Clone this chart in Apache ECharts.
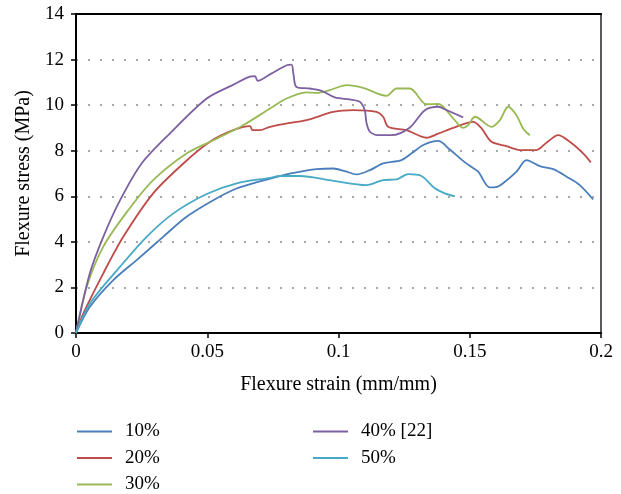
<!DOCTYPE html>
<html>
<head>
<meta charset="utf-8">
<script src="https://cdn.jsdelivr.net/npm/echarts@6/dist/echarts.min.js"></script>
<style>
html,body{margin:0;padding:0;background:#fff;}
#chart{width:621px;height:494px;}
</style>
</head>
<body>
<div id="chart"></div>
<script>
var seriesNames = ['10%', '20%', '30%', '40% [22]', '50%'];
var xTicks = [0, 0.05, 0.1, 0.15, 0.2];
var yTicks = [0, 2, 4, 6, 8, 10, 12, 14];

var s10 = [[0,0],[0.0053,1.15],[0.0142,2.32],[0.0231,3.2],[0.0332,4.22],[0.0421,5.1],[0.0523,5.83],[0.0612,6.34],[0.0700,6.65],[0.079,6.93],[0.0855,7.08],[0.0917,7.19],[0.098,7.22],[0.1025,7.1],[0.1069,6.96],[0.112,7.15],[0.117,7.44],[0.124,7.59],[0.128,7.9],[0.1323,8.25],[0.138,8.43],[0.1424,8.05],[0.147,7.6],[0.15,7.34],[0.1532,7.08],[0.1576,6.39],[0.16,6.4],[0.1627,6.57],[0.1678,7.08],[0.1716,7.59],[0.1767,7.32],[0.1818,7.19],[0.1869,6.86],[0.1919,6.49],[0.197,5.86]];
var s20 = [[0,0],[0.0028,0.86],[0.0104,2.62],[0.018,4.22],[0.0294,6.13],[0.0409,7.44],[0.051,8.39],[0.0599,8.9],[0.0663,9.08],[0.0672,8.9],[0.07,8.9],[0.0739,9.05],[0.079,9.17],[0.0878,9.34],[0.098,9.7],[0.1057,9.78],[0.1145,9.7],[0.117,9.49],[0.1189,9.05],[0.1259,8.9],[0.1335,8.57],[0.138,8.75],[0.1437,9.0],[0.1513,9.27],[0.1545,8.98],[0.1583,8.39],[0.164,8.2],[0.1691,8.03],[0.1754,8.03],[0.1792,8.35],[0.1837,8.68],[0.1881,8.39],[0.1932,7.88],[0.1961,7.49]];
var s30 = [[0,0],[0.0041,2.03],[0.0104,3.79],[0.0199,5.39],[0.0294,6.71],[0.0421,7.88],[0.0523,8.46],[0.0637,9.12],[0.0739,9.85],[0.0802,10.29],[0.0878,10.56],[0.0917,10.54],[0.0967,10.66],[0.1031,10.88],[0.1094,10.76],[0.1183,10.41],[0.1221,10.73],[0.1272,10.73],[0.1335,10.04],[0.138,10.05],[0.1437,9.42],[0.1475,9.0],[0.1494,9.12],[0.152,9.49],[0.1583,9.05],[0.1615,9.34],[0.1646,9.93],[0.1678,9.56],[0.1703,8.98],[0.1729,8.68]];
var s40 = [[0,0],[0.0053,2.63],[0.0104,4.22],[0.0168,5.83],[0.025,7.44],[0.0358,8.76],[0.0498,10.29],[0.06,10.9],[0.0663,11.25],[0.0682,11.27],[0.0692,11.07],[0.0739,11.35],[0.0802,11.75],[0.0821,11.78],[0.0828,11.39],[0.084,10.8],[0.0891,10.73],[0.0936,10.63],[0.0986,10.34],[0.1043,10.25],[0.1081,10.15],[0.11,9.78],[0.1107,9.2],[0.112,8.83],[0.1158,8.68],[0.1202,8.68],[0.1272,9.02],[0.1329,9.78],[0.138,9.93],[0.1412,9.78],[0.1475,9.46]];
var s50 = [[0,0],[0.0053,1.3],[0.0168,2.91],[0.0269,4.22],[0.0371,5.25],[0.0498,6.1],[0.0612,6.57],[0.0739,6.81],[0.0777,6.89],[0.0853,6.89],[0.098,6.68],[0.1107,6.49],[0.117,6.71],[0.1221,6.74],[0.1265,6.97],[0.1316,6.89],[0.1367,6.35],[0.1405,6.13],[0.1443,6.0]];

var colors = ['#4a7ebb', '#be4b48', '#98b954', '#7d60a0', '#46aac5'];
var allData = [s10, s20, s30, s40, s50];
var FONT = '"Liberation Serif", "Times New Roman", serif';

var chart = echarts.init(document.getElementById('chart'), null, {renderer: 'canvas'});

var series = allData.map(function (d, i) {
  return {
    name: seriesNames[i],
    type: 'line',
    data: d,
    showSymbol: false,
    symbol: 'none',
    smooth: 0.3,
    lineStyle: {color: colors[i], width: 1.8},
    itemStyle: {color: colors[i]},
    animation: false
  };
});

var legendCommon = {
  orient: 'vertical',
  icon: 'rect',
  itemWidth: 35,
  itemHeight: 2,
  itemGap: 7.5,
  height: 80,
  padding: 0,
  textStyle: {fontFamily: FONT, fontSize: 19, color: '#000', lineHeight: 18, padding: [0, 0, 0, 8]},
  selectedMode: false
};

var option = {
  backgroundColor: '#fff',
  animation: false,
  color: colors,
  grid: {left: 76, right: 20, top: 14, bottom: 161, show: true, borderColor: '#595959', borderWidth: 2, containLabel: false},
  xAxis: [{
    type: 'value', min: 0, max: 0.2, interval: 0.05,
    name: 'Flexure strain (mm/mm)', nameLocation: 'middle', nameGap: 42,
    nameTextStyle: {fontFamily: FONT, fontSize: 20, color: '#000'},
    axisLine: {show: true, lineStyle: {color: '#000', width: 2}},
    axisTick: {show: true, inside: false, length: 5, lineStyle: {color: '#000', width: 1.5}},
    axisLabel: {fontFamily: FONT, fontSize: 19, color: '#000', margin: 10,
      formatter: function (v) { return xTicks.indexOf(Math.round(v * 1000) / 1000) >= 0 ? String(Math.round(v * 1000) / 1000) : ''; }},
    splitLine: {show: false}
  }, {
    type: 'value', min: 0, max: 0.2, position: 'top',
    axisLine: {show: true, lineStyle: {color: '#000', width: 2}},
    axisTick: {show: false}, axisLabel: {show: false}, splitLine: {show: false}
  }],
  yAxis: [{
    type: 'value', min: 0, max: 14, interval: 2,
    name: 'Flexure stress (MPa)', nameLocation: 'middle', nameGap: 40,
    nameTextStyle: {fontFamily: FONT, fontSize: 20, color: '#000'},
    axisLine: {show: true, lineStyle: {color: '#000', width: 2}},
    axisTick: {show: true, inside: false, length: 5, lineStyle: {color: '#000', width: 1.5}},
    axisLabel: {fontFamily: FONT, fontSize: 19, color: '#000', margin: 12,
      formatter: function (v) { return yTicks.indexOf(v) >= 0 ? String(v) : ''; }},
    splitLine: {show: true, lineStyle: {color: '#8c8c8c', width: 1.5, type: [2, 10]}}
  }],
  legend: [
    Object.assign({}, legendCommon, {left: 77, top: 422, data: seriesNames.slice(0, 3)}),
    Object.assign({}, legendCommon, {left: 313, top: 422, data: seriesNames.slice(3)})
  ],
  series: series
};
chart.setOption(option);
</script>
</body>
</html>
